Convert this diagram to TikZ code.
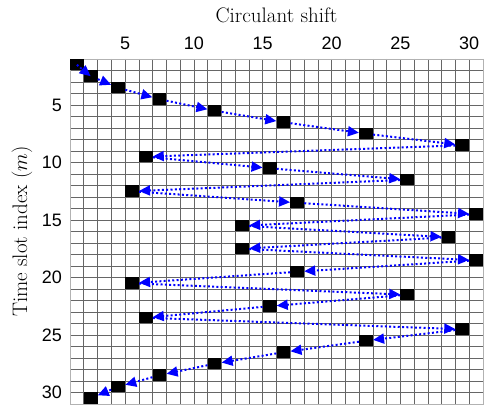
\documentclass[tikz,border=0pt]{standalone}
\usepackage{fontspec}
\newfontfamily\axisfont{Liberation Sans}
\usetikzlibrary{arrows.meta}
\tikzset{
  slot/.style={rectangle,fill=black,inner sep=0pt,minimum width=13.77pt,minimum height=11.5pt},
  hop/.style={draw=blue,line width=2pt,dash pattern=on 2pt off 2.3pt,-{Triangle[length=11pt,width=10pt]}},
  gridline/.style={draw=black!60,line width=0.55pt},
  ticklabel/.style={font=\axisfont\fontsize{18}{18}\selectfont,inner sep=0pt},
  axislabel/.style={font=\fontsize{21}{21}\selectfont,inner sep=0pt},
}

\begin{document}
\begin{tikzpicture}[x=13.7667pt,y=-11.5pt]
\useasboundingbox (-4.085,-4.13) rectangle (31.363,31.26);

% grid of shifts and slots
\foreach \i in {1,...,31} {
  \draw[gridline] (\i,1) -- (\i,31);
  \draw[gridline] (1,\i) -- (31,\i);
}
\draw[gray!60,line width=0.6pt] (1,1) rectangle (31,31);

% occupied cells
\foreach \m in {1,...,30} {
  \pgfmathtruncatemacro{\c}{mod(\m*(\m-1)/2,31)+1}
  \node[slot] (b\m) at (\c+0.5,\m+0.5) {};
}

\draw[hop] (b1.center) -- (b2.center);
\foreach \m [evaluate=\m as \n using int(\m+1)] in {2,...,29}
  \draw[hop] (b\m) -- (b\n);

% axes
\foreach \t in {5,10,...,30} {
  \node[ticklabel] (xt\t) at (\t,-0.39) {\t};
  \node[ticklabel,anchor=east] (yt\t) at (0.42,\t) {\t};
}
\node[axislabel] (xlab) at (16,-2.83) {Circulant shift};
\node[axislabel,rotate=90] (ylab) at (-2.49,16) {Time slot index $(m)$};
\end{tikzpicture}
\end{document}
